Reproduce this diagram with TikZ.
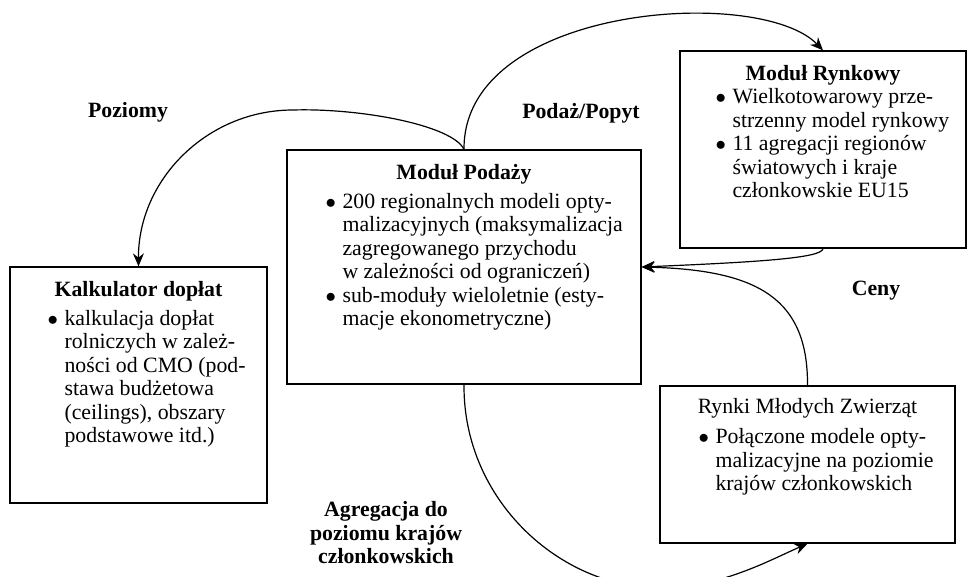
\documentclass[tikz,border=0pt]{standalone}
\usepackage{fontspec}
\setmainfont{Liberation Serif}
\usepackage{tikz}
\usetikzlibrary{arrows.meta}

\newcommand{\duzy}{\fontsize{21.8}{23.5}\selectfont}
\newcommand{\pkt}{$\bullet$}
\newcommand{\lista}[1]{\begin{tabular}[t]{@{}p{17pt}@{}l@{}}#1\end{tabular}}

\tikzset{
  modul/.style={draw, line width=1.3pt, inner sep=0pt},
  tytul/.style={anchor=base, inner sep=0pt, font=\duzy\bfseries},
  lista/.style={anchor=base west, inner sep=0pt, font=\duzy},
  strz/.style={->, line width=1.2pt},
  etyk/.style={font=\duzy\bfseries, align=center, inner sep=0pt}
}

\begin{document}
\begin{tikzpicture}[x=1pt, y=-1pt, >={Stealth[length=13pt,width=11pt]}]
\useasboundingbox (0,0) rectangle (968,577);
\clip (0,0) rectangle (968,577);

% boxes
\node[modul, minimum width=257pt, minimum height=236pt] (kalk) at (138.5,385) {};
\node[modul, minimum width=354pt, minimum height=234pt] (podaz) at (464,267) {};
\node[modul, minimum width=286pt, minimum height=197pt] (rynek) at (823,149.5) {};
\node[modul, minimum width=295pt, minimum height=157pt] (mlode) at (807.5,464.5) {};

% titles
\node[tytul] (kalk-t) at ([yshift=-30pt]kalk.north) {Kalkulator dopłat};
\node[tytul] (podaz-t) at ([yshift=-30pt]podaz.north) {Moduł Podaży};
\node[tytul] (rynek-t) at ([yshift=-30pt]rynek.north) {Moduł Rynkowy};
\node[tytul, font=\duzy] (mlode-t) at ([yshift=-28.5pt]mlode.north) {Rynki Młodych Zwierząt};

% bullet lists
\node[lista] (kalk-l) at ([xshift=38pt,yshift=-59pt]kalk.north west) {\lista{
\pkt & kalkulacja dopłat\\
 & rolniczych w zależ-\\
 & ności od CMO (pod-\\
 & stawa budżetowa\\
 & (ceilings), obszary\\
 & podstawowe itd.)}};
\node[lista] (podaz-l) at ([xshift=39pt,yshift=-59pt]podaz.north west) {\lista{
\pkt & 200 regionalnych modeli opty-\\
 & malizacyjnych (maksymalizacja\\
 & zagregowanego przychodu\\
 & w zależności od ograniczeń)\\
\pkt & sub-moduły wieloletnie (esty-\\
 & macje ekonometryczne)}};
\node[lista] (rynek-l) at ([xshift=36pt,yshift=-53.5pt]rynek.north west) {\lista{
\pkt & Wielkotowarowy prze-\\
 & strzenny model rynkowy\\
\pkt & 11 agregacji regionów\\
 & światowych i kraje\\
 & członkowskie EU15}};
\node[lista] (mlode-l) at ([xshift=39pt,yshift=-58.5pt]mlode.north west) {\lista{
\pkt & Połączone modele opty-\\
 & malizacyjne na poziomie\\
 & krajów członkowskich}};

% labels
\node[etyk] (poziomy) at (128,112) {Poziomy};
\node[etyk] (podpop) at (581,113) {Podaż/Popyt};
\node[etyk] (ceny) at (876,291) {Ceny};
\node[etyk] (agreg) at (386,533) {Agregacja do\\poziomu krajów\\członkowskich};

% connectors
\draw[strz] (podaz.north) .. controls (452,125) and (360,108) .. (293,110)
  .. controls (207,110) and (138,180) .. (kalk.north);
\draw[strz] (podaz.north) .. controls (463,5) and (760,-15) .. (rynek.north);
\draw[strz] (rynek.south) .. controls (822,258) and (760,262) .. (podaz.east);
\draw[strz] (mlode.north) .. controls (808,300) and (760,270) .. (podaz.east);
\draw[strz] (podaz.south) .. controls (463,500) and (560,588) .. (660,588)
  .. controls (720,588) and (770,560) .. (mlode.south);
\end{tikzpicture}
\end{document}
